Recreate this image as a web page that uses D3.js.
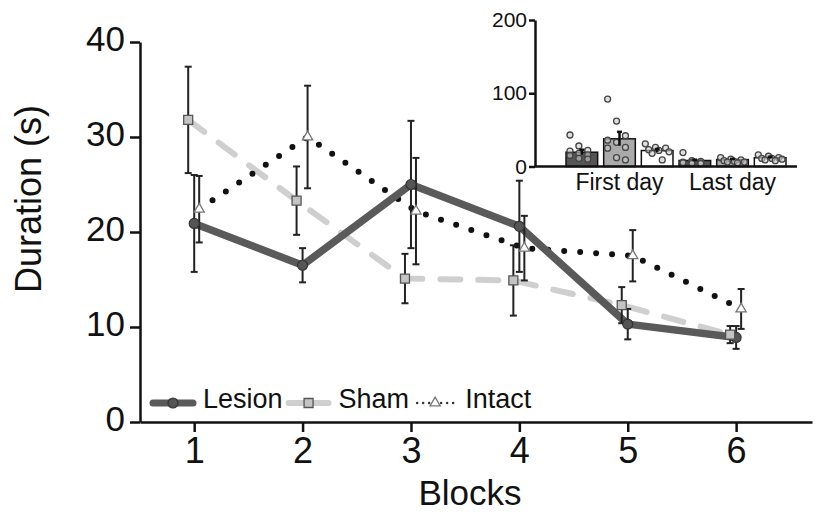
<!DOCTYPE html>
<html>
<head>
<meta charset="utf-8">
<script src="https://cdn.jsdelivr.net/npm/d3@7"></script>
<style>
  body { margin: 0; background: #fff; }
  svg { display: block; font-family: "Liberation Sans", Arial, sans-serif; }
</style>
</head>
<body>
<div id="chart"></div>
<script>
// main chart data
var blocks = [1, 2, 3, 4, 5, 6];
var groups = ["Lesion", "Sham", "Intact"];
var lesionMean = [20.9, 16.5, 25.0, 20.6, 10.3, 8.9];
var lesionSem  = [5.1, 1.8, 6.7, 4.8, 1.6, 1.2];
var shamMean   = [31.8, 23.3, 15.1, 14.9, 12.3, 9.2];
var shamSem    = [5.6, 3.6, 2.6, 3.7, 1.9, 0.9];
var intactMean = [22.4, 30.0, 22.2, 18.3, 17.5, 11.9];
var intactSem  = [3.5, 5.4, 5.6, 3.4, 2.7, 2.1];
var yTicks = [0, 10, 20, 30, 40];

// inset data
var days = ["First day", "Last day"];
var insetMean = { "First day": [19.5, 37.8, 21.8], "Last day": [8.2, 9.5, 12.0] };
var insetSem  = { "First day": [3.4, 9.5, 2.0],   "Last day": [1.0, 1.0, 1.2] };
var firstLesion = [43, 28, 22, 21, 18, 16, 15, 11, 10];
var firstSham   = [92, 62, 42, 36, 33, 26, 25, 12, 9];
var firstIntact = [31, 26, 25, 23, 22, 20, 18, 9];
var lastLesion  = [19, 8, 7, 6, 6, 5, 5, 4, 4];
var lastSham    = [12, 10, 9, 8, 7, 6, 6, 5];
var lastIntact  = [16, 14, 12, 11, 11, 10, 9, 8];
var insetTicks = [0, 100, 200];

(function() {
  "use strict";

  var w = 816, h = 512;
  var svg = d3.select("#chart").append("svg")
    .attr("width", w).attr("height", h);

  var x = d3.scaleLinear().domain([0.5, 6.7]).range([140, 812]);
  var y = d3.scaleLinear().domain([0, 40]).range([422, 42]);

  var means = [lesionMean, shamMean, intactMean];
  var sems = [lesionSem, shamSem, intactSem];
  // per-group look; small horizontal dodge like the original
  var style = {
    Lesion: { dx: 0,  color: "#5a5a5a", width: 7.5, dash: null },
    Sham:   { dx: -6, color: "#cfcfcf", width: 6, dash: "20 18" },
    Intact: { dx: 5,  color: "#111",    width: 6, dash: "0 16" }
  };

  var series = groups.map(function(g, i) {
    return {
      name: g,
      values: blocks.map(function(b, j) {
        return { block: b, mean: means[i][j], sem: sems[i][j] };
      })
    };
  });

  // axes
  var yAxis = d3.axisLeft(y).tickValues(yTicks).tickSize(10).tickSizeOuter(0).tickPadding(5);
  var gy = svg.append("g").attr("transform", "translate(140,0)").call(yAxis);
  gy.selectAll("text").attr("font-size", 35).attr("dy", "0.25em").attr("fill", "#111");

  var xAxis = d3.axisBottom(x).tickValues(blocks).tickFormat(d3.format("d"))
    .tickSize(10).tickSizeOuter(0).tickPadding(5);
  var gx = svg.append("g").attr("transform", "translate(0,422)").call(xAxis);
  gx.selectAll("text").attr("font-size", 36).attr("fill", "#111");

  svg.selectAll(".domain").attr("stroke", "#111").attr("stroke-width", 2.5);
  svg.selectAll(".tick line").attr("stroke", "#111").attr("stroke-width", 2.5);

  svg.append("text")
    .attr("transform", "translate(41,199) rotate(-90)")
    .attr("text-anchor", "middle")
    .attr("font-size", 36)
    .attr("fill", "#111")
    .text("Duration (s)");

  svg.append("text")
    .attr("x", 470).attr("y", 505)
    .attr("text-anchor", "middle")
    .attr("font-size", 35)
    .attr("fill", "#111")
    .text("Blocks");

  // lines
  var line = d3.line()
    .x(function(d) { return x(d.block); })
    .y(function(d) { return y(d.mean); });

  var order = ["Sham", "Intact", "Lesion"];
  order.forEach(function(name) {
    var s = series.find(function(d) { return d.name == name; });
    var st = style[name];
    svg.append("path")
      .datum(s.values)
      .attr("transform", "translate(" + st.dx + ",0)")
      .attr("fill", "none")
      .attr("stroke", st.color)
      .attr("stroke-width", st.width)
      .attr("stroke-linecap", "round")
      .attr("stroke-linejoin", "round")
      .attr("stroke-dasharray", st.dash)
      .attr("d", line);
  });

  // error bars
  series.forEach(function(s) {
    var st = style[s.name];
    var eb = svg.append("g").attr("class", "err")
      .selectAll("g").data(s.values).enter().append("g")
      .attr("transform", function(d) { return "translate(" + (x(d.block) + st.dx) + ",0)"; });
    eb.append("line")
      .attr("y1", function(d) { return y(d.mean + d.sem); })
      .attr("y2", function(d) { return y(d.mean - d.sem); });
    eb.append("line").attr("x1", -3.5).attr("x2", 3.5)
      .attr("y1", function(d) { return y(d.mean + d.sem); })
      .attr("y2", function(d) { return y(d.mean + d.sem); });
    eb.append("line").attr("x1", -3.5).attr("x2", 3.5)
      .attr("y1", function(d) { return y(d.mean - d.sem); })
      .attr("y2", function(d) { return y(d.mean - d.sem); });
  });
  svg.selectAll(".err line").attr("stroke", "#222").attr("stroke-width", 2);

  // markers
  function marker(sel, name) {
    if (name == "Lesion") {
      sel.append("circle").attr("r", 5).attr("fill", "#555").attr("stroke", "#333").attr("stroke-width", 1.2);
    } else if (name == "Sham") {
      sel.append("path").attr("d", d3.symbol().type(d3.symbolSquare).size(81))
        .attr("fill", "#c4c4c4").attr("stroke", "#555").attr("stroke-width", 1.3);
    } else {
      sel.append("path").attr("d", d3.symbol().type(d3.symbolTriangle).size(45))
        .attr("fill", "#fff").attr("stroke", "#777").attr("stroke-width", 1.3);
    }
  }
  series.forEach(function(s) {
    var st = style[s.name];
    svg.append("g").selectAll("g").data(s.values).enter().append("g")
      .attr("transform", function(d) { return "translate(" + (x(d.block) + st.dx) + "," + y(d.mean) + ")"; })
      .each(function() { marker(d3.select(this), s.name); });
  });

  // legend
  var lg = svg.append("g").attr("transform", "translate(153,403)");
  var cx = 0;
  groups.forEach(function(name) {
    var item = lg.append("g").attr("transform", "translate(" + cx + ",0)");
    if (name == "Lesion") {
      item.append("line").attr("x1", 0).attr("x2", 40).attr("stroke", "#5a5a5a")
        .attr("stroke-width", 7).attr("stroke-linecap", "round");
    } else if (name == "Sham") {
      item.append("line").attr("x1", 0).attr("x2", 40).attr("stroke", "#cfcfcf")
        .attr("stroke-width", 6).attr("stroke-linecap", "round");
    } else {
      item.append("line").attr("x1", 2).attr("x2", 40).attr("stroke", "#333")
        .attr("stroke-width", 2.5).attr("stroke-linecap", "round").attr("stroke-dasharray", "0 6");
    }
    var m = item.append("g").attr("transform", "translate(20,0)");
    marker(m, name);
    var t = item.append("text").attr("x", 50).attr("y", 5)
      .attr("font-size", 27).attr("fill", "#111").text(name);
    cx += 50 + t.node().getComputedTextLength() + 6;
  });

  // ---- inset bar chart ----
  var yi = d3.scaleLinear().domain([0, 200]).range([166.5, 20]);
  var x0 = d3.scaleBand().domain(days).range([563, 789]).padding(0);
  var x1 = d3.scaleBand().domain(groups).range([0, x0.bandwidth()]).paddingInner(0.16).paddingOuter(0.08);
  var fills = { Lesion: "#555", Sham: "#aaa", Intact: "#fff" };
  var pts = {
    "First day": [firstLesion, firstSham, firstIntact],
    "Last day": [lastLesion, lastSham, lastIntact]
  };

  var inset = svg.append("g");
  var bars = [];
  days.forEach(function(day) {
    groups.forEach(function(g, i) {
      bars.push({ day: day, group: g, mean: insetMean[day][i], sem: insetSem[day][i], pts: pts[day][i] });
    });
  });

  inset.selectAll("rect").data(bars).enter().append("rect")
    .attr("x", function(d) { return x0(d.day) + x1(d.group); })
    .attr("width", x1.bandwidth())
    .attr("y", function(d) { return yi(d.mean); })
    .attr("height", function(d) { return yi(0) - yi(d.mean); })
    .attr("fill", function(d) { return fills[d.group]; })
    .attr("stroke", "#111").attr("stroke-width", 1.5);

  bars.forEach(function(b) {
    var cxb = x0(b.day) + x1(b.group) + x1.bandwidth() / 2;
    var n = b.pts.length;
    inset.append("g").selectAll("circle").data(b.pts).enter().append("circle")
      .attr("cx", function(d, i) { return cxb + (((i * 3) % n) / (n - 1) - 0.5) * x1.bandwidth() * 0.75; })
      .attr("cy", function(d) { return yi(d); })
      .attr("r", 3)
      .attr("fill", "#ccc").attr("fill-opacity", 0.6)
      .attr("stroke", "#444").attr("stroke-width", 1.3);
    var eg = inset.append("g").attr("stroke", "#111").attr("stroke-width", 2.5);
    eg.append("line").attr("x1", cxb).attr("x2", cxb)
      .attr("y1", yi(b.mean + b.sem)).attr("y2", yi(b.mean - b.sem));
    eg.append("line").attr("x1", cxb - 2.5).attr("x2", cxb + 2.5)
      .attr("y1", yi(b.mean + b.sem)).attr("y2", yi(b.mean + b.sem));
  });

  var yiAxis = d3.axisLeft(yi).tickValues(insetTicks).tickSize(6).tickSizeOuter(0).tickPadding(2);
  var giy = inset.append("g").attr("transform", "translate(535,0)").call(yiAxis);
  giy.selectAll("text").attr("font-size", 21).attr("fill", "#111");
  giy.selectAll("line").attr("stroke", "#111").attr("stroke-width", 2.5);
  giy.select(".domain").attr("stroke", "#111").attr("stroke-width", 2.5);

  var xiAxis = d3.axisBottom(x0).tickSize(0).tickSizeOuter(0).tickPadding(7);
  var gix = inset.append("g").attr("transform", "translate(0,166.5)").call(xiAxis);
  gix.select(".domain").attr("d", "M535,0H797").attr("stroke", "#111").attr("stroke-width", 2.5);
  gix.selectAll("text").attr("font-size", 23).attr("fill", "#111").attr("dy", "0.71em");
})();
</script>
</body>
</html>
